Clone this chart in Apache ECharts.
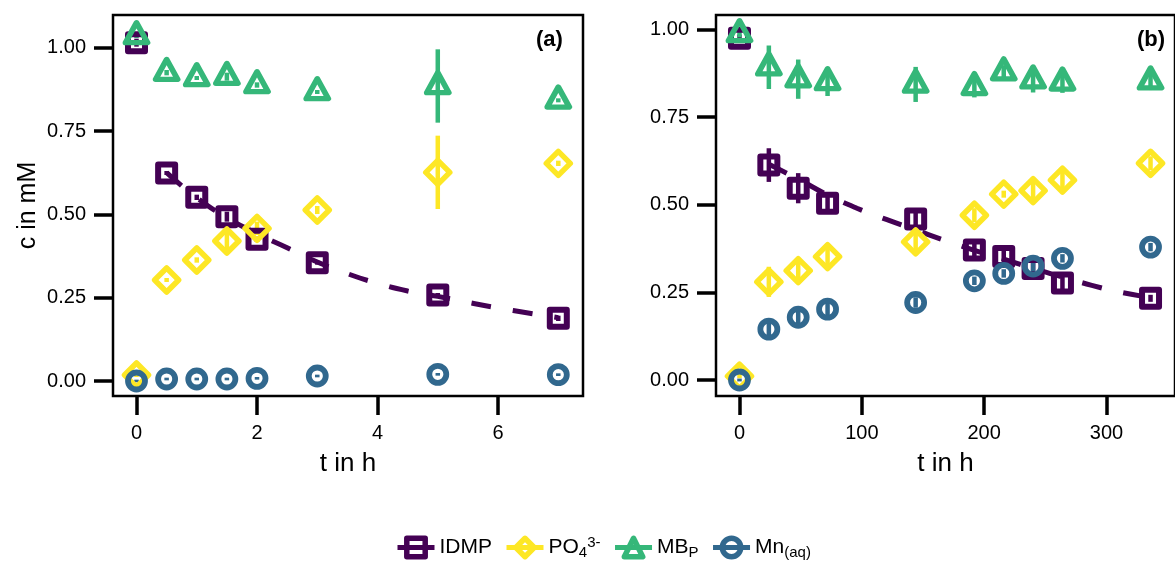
<!DOCTYPE html>
<html><head><meta charset="utf-8">
<script src="https://cdn.jsdelivr.net/npm/echarts@6/dist/echarts.min.js"></script>
<style>html,body{margin:0;padding:0;background:#fff}#c{width:1175px;height:561px}</style>
</head><body><div id="c"></div>
<script>
// ---- panel (a): short-term, t in h ----
const tA = [0, 0.5, 1, 1.5, 2, 3, 5, 7];
const idmpA = [1.015, 0.624, 0.551, 0.493, 0.425, 0.355, 0.258, 0.188];
const idmpErrA = [0.012, 0.006, 0.008, 0.015, 0.008, 0.006, 0.006, 0.008];
const po4A = [0.018, 0.303, 0.363, 0.42, 0.458, 0.513, 0.626, 0.653];
const po4ErrA = [0.006, 0.006, 0.008, 0.03, 0.02, 0.012, 0.11, 0.008];
const mbA = [1.035, 0.925, 0.909, 0.913, 0.888, 0.867, 0.885, 0.842];
const mbErrA = [0.006, 0.008, 0.006, 0.012, 0.008, 0.006, 0.11, 0.006];
const mnA = [0.0, 0.006, 0.006, 0.006, 0.008, 0.015, 0.02, 0.019];
const mnErrA = [0.004, 0.004, 0.004, 0.004, 0.004, 0.004, 0.004, 0.004];
const fitTA = [0.5, 1, 1.5, 2, 2.5, 3, 3.5, 4, 4.5, 5, 5.5, 6, 6.5, 7];
const fitA = [0.625, 0.55, 0.49, 0.442, 0.4, 0.357, 0.322, 0.293, 0.27, 0.254, 0.236, 0.219, 0.204, 0.19];

// ---- panel (b): long-term, t in h ----
const tB = [0, 24, 48, 72, 144, 192, 216, 240, 264, 336];
const idmpB = [0.975, 0.613, 0.547, 0.504, 0.459, 0.371, 0.352, 0.318, 0.277, 0.233];
const idmpErrB = [0.01, 0.048, 0.043, 0.025, 0.03, 0.025, 0.025, 0.02, 0.025, 0.01];
const po4B = [0.011, 0.28, 0.312, 0.352, 0.394, 0.47, 0.53, 0.54, 0.57, 0.618];
const po4ErrB = [0.006, 0.043, 0.03, 0.025, 0.03, 0.02, 0.01, 0.025, 0.025, 0.02];
const mbB = [0.987, 0.892, 0.858, 0.85, 0.843, 0.836, 0.878, 0.855, 0.849, 0.852];
const mbErrB = [0.01, 0.062, 0.056, 0.04, 0.05, 0.03, 0.02, 0.035, 0.03, 0.025];
const mnB = [0.0, 0.145, 0.179, 0.202, 0.221, 0.283, 0.304, 0.325, 0.347, 0.379];
const mnErrB = [0.004, 0.02, 0.02, 0.02, 0.015, 0.012, 0.012, 0.015, 0.012, 0.012];
const fitTB = [24, 48, 72, 96, 120, 144, 168, 192, 216, 240, 264, 288, 312, 336];
const fitB = [0.615, 0.573, 0.528, 0.49, 0.458, 0.428, 0.398, 0.37, 0.345, 0.318, 0.294, 0.27, 0.25, 0.235];

// ---- ticks ----
const yTicks = [0, 0.25, 0.5, 0.75, 1.0];
const xTicksA = [0, 2, 4, 6];
const xTicksB = [0, 100, 200, 300];

const FONT = 'Liberation Sans, Arial, sans-serif';
const C = {IDMP: '#440154', PO4: '#FDE725', MB: '#35B779', Mn: '#31688E'};
const SYM = {
  IDMP: {symbol: 'rect', size: 17, offset: [0, 0], bw: 6},
  PO4: {symbol: 'diamond', size: 24, offset: [0, 0], bw: 5.5},
  MB: {symbol: 'triangle', size: [22, 20], offset: [0, -3.3], bw: 5.5},
  Mn: {symbol: 'circle', size: 17, offset: [0, 0], bw: 5.8}
};

function pts(name, xs, ys, gi, z) {
  const s = SYM[name];
  return {
    type: 'line', name: name, xAxisIndex: gi, yAxisIndex: gi,
    data: xs.map((x, i) => [x, ys[i]]),
    symbol: s.symbol, symbolSize: s.size, symbolOffset: s.offset, showSymbol: true,
    itemStyle: {color: 'rgba(0,0,0,0)', borderColor: C[name], borderWidth: s.bw, borderJoin: 'round'},
    lineStyle: {color: C[name], width: 0, opacity: 0},
    emphasis: {disabled: true}, silent: true, z: z, clip: false
  };
}
function errs(name, xs, ys, es, gi) {
  return {
    type: 'custom', xAxisIndex: gi, yAxisIndex: gi, silent: true, z: 1, clip: false,
    data: xs.map((x, i) => [x, ys[i] - es[i], ys[i] + es[i]]),
    encode: {x: 0, y: [1, 2]},
    renderItem: function (params, api) {
      const p1 = api.coord([api.value(0), api.value(1)]);
      const p2 = api.coord([api.value(0), api.value(2)]);
      return {type: 'line', shape: {x1: p1[0], y1: p1[1], x2: p2[0], y2: p2[1]},
        style: {stroke: C[name], lineWidth: 4.5, lineCap: 'butt'}};
    }
  };
}
function fit(xs, ys, gi) {
  return {
    type: 'line', name: 'fit', xAxisIndex: gi, yAxisIndex: gi,
    data: xs.map((x, i) => [x, ys[i]]), symbol: 'none', smooth: true,
    lineStyle: {color: C.IDMP, width: 5, type: [20, 22], cap: 'butt'},
    emphasis: {disabled: true}, silent: true, z: 2
  };
}
function xAx(gi, min, max, ticks) {
  return {
    type: 'value', gridIndex: gi, min: min, max: max,
    axisLine: {show: false, onZero: false},
    axisTick: {show: true, inside: false, length: 19, lineStyle: {width: 3.5, color: '#000'}, customValues: ticks},
    axisLabel: {customValues: ticks, margin: 27, fontSize: 20, color: '#000', fontFamily: FONT},
    splitLine: {show: false},
    name: 't in h', nameLocation: 'middle', nameGap: 55,
    nameTextStyle: {fontSize: 26, color: '#000', fontFamily: FONT}
  };
}
function yAx(gi, min, max, withName) {
  return {
    type: 'value', gridIndex: gi, min: min, max: max,
    axisLine: {show: false, onZero: false},
    axisTick: {show: true, inside: false, length: 19, lineStyle: {width: 3.5, color: '#000'}, customValues: yTicks},
    axisLabel: {customValues: yTicks, margin: 27, fontSize: 20, color: '#000', fontFamily: FONT,
      formatter: v => v.toFixed(2)},
    splitLine: {show: false},
    name: withName ? 'c in mM' : '', nameLocation: 'middle', nameGap: 72, nameRotate: 90,
    nameTextStyle: {fontSize: 25, color: '#000', fontFamily: FONT}
  };
}

const order = ['IDMP', 'PO4', 'MB', 'Mn'];
const dataA = {IDMP: [idmpA, idmpErrA], PO4: [po4A, po4ErrA], MB: [mbA, mbErrA], Mn: [mnA, mnErrA]};
const dataB = {IDMP: [idmpB, idmpErrB], PO4: [po4B, po4ErrB], MB: [mbB, mbErrB], Mn: [mnB, mnErrB]};
const series = [];
series.push(fit(fitTA, fitA, 0));
series.push(fit(fitTB, fitB, 1));
order.forEach((n) => {
  series.push(errs(n, tA, dataA[n][0], dataA[n][1], 0));
  series.push(errs(n, tB, dataB[n][0], dataB[n][1], 1));
});
order.forEach((n, k) => {
  series.push(pts(n, tA, dataA[n][0], 0, 3 + k));
  series.push(pts(n, tB, dataB[n][0], 1, 3 + k));
});

const legendLabels = {
  IDMP: 'IDMP',
  PO4: 'PO{sub|4}{sup|3-}',
  MB: 'MB{sub|P}',
  Mn: 'Mn{sub|(aq)}'
};

const chart = echarts.init(document.getElementById('c'), null, {renderer: 'canvas'});
chart.setOption({
  animation: false,
  backgroundColor: '#fff',
  title: [
    {text: '(a)', left: 536, top: 29, padding: 0, textStyle: {fontSize: 22, fontWeight: 'bold', color: '#000', fontFamily: FONT}},
    {text: '(b)', left: 1137, top: 29, padding: 0, textStyle: {fontSize: 22, fontWeight: 'bold', color: '#000', fontFamily: FONT}}
  ],
  grid: [
    {left: 113, top: 15, width: 470, height: 381, show: true, borderColor: '#000', borderWidth: 2.5, backgroundColor: 'transparent'},
    {left: 716, top: 15, width: 470, height: 381, show: true, borderColor: '#000', borderWidth: 2.5, backgroundColor: 'transparent'}
  ],
  xAxis: [xAx(0, -0.39, 7.41, xTicksA), xAx(1, -19.2, 356, xTicksB)],
  yAxis: [yAx(0, -0.045, 1.098, true), yAx(1, -0.0456, 1.041, false)],
  legend: {
    left: 395, top: 535, padding: 0, itemWidth: 37, itemHeight: 23, itemGap: 12, selectedMode: false,
    data: order,
    formatter: name => legendLabels[name],
    lineStyle: {width: 5, opacity: 1, type: 'solid'},
    itemStyle: {borderWidth: 5.5},
    textStyle: {fontSize: 21, color: '#000', fontFamily: FONT,
      rich: {
        sub: {fontSize: 15, color: '#000', fontFamily: FONT, padding: [10, 0, 0, 0]},
        sup: {fontSize: 15, color: '#000', fontFamily: FONT, padding: [0, 0, 10, 0]}
      }}
  },
  series: series
});
</script></body></html>
